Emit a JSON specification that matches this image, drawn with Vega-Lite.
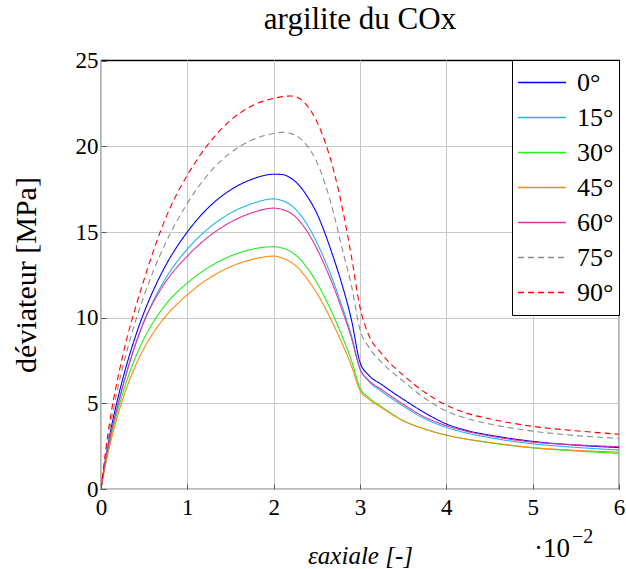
{
  "$schema": "https://vega.github.io/schema/vega-lite/v6.json",
  "autosize": "none",
  "width": 518,
  "height": 429,
  "padding": {"left": 101, "top": 60, "right": 7, "bottom": 80},
  "background": "white",
  "title": {"text": "argilite du COx", "font": "Liberation Serif, DejaVu Serif, serif", "fontSize": 31, "fontWeight": "normal", "color": "black", "offset": 14},
  "config": {
    "view": {"stroke": "black", "strokeWidth": 1.2},
    "axis": {"labelFont": "Liberation Serif, DejaVu Serif, serif", "labelFontSize": 23, "labelColor": "black", "labelFlush": false, "titleFont": "Liberation Serif, DejaVu Serif, serif", "titleFontWeight": "normal", "titleColor": "black", "gridColor": "#c8c8c8", "gridWidth": 1, "domain": false, "tickColor": "#555555", "tickSize": -5}
  },
  "layer": [
    {
      "data": {"values": [
        {"x":0,"0°":0,"15°":0,"30°":0,"45°":0,"60°":0,"75°":0,"90°":0},
        {"x":0.05,"0°":1.7,"15°":1.6,"30°":1.45,"45°":1.35,"60°":1.6,"75°":1.85,"90°":2.1},
        {"x":0.1,"0°":3.1,"15°":2.9,"30°":2.7,"45°":2.5,"60°":2.9,"75°":3.45,"90°":3.9},
        {"x":0.2,"0°":5.4,"15°":5.0,"30°":4.7,"45°":4.4,"60°":5.0,"75°":6.0,"90°":6.6},
        {"x":0.3,"0°":7.3,"15°":6.85,"30°":6.35,"45°":5.95,"60°":6.85,"75°":8.05,"90°":8.8},
        {"x":0.4,"0°":8.93,"15°":8.45,"30°":7.7,"45°":7.2,"60°":8.45,"75°":9.8,"90°":10.6},
        {"x":0.5,"0°":10.33,"15°":9.8,"30°":8.8,"45°":8.23,"60°":9.8,"75°":11.3,"90°":12.25},
        {"x":0.6,"0°":11.53,"15°":10.93,"30°":9.7,"45°":9.07,"60°":10.85,"75°":12.65,"90°":13.8},
        {"x":0.75,"0°":13.06,"15°":12.31,"30°":10.78,"45°":10.09,"60°":12.1,"75°":14.38,"90°":15.83},
        {"x":1,"0°":15.01,"15°":14.01,"30°":12.03,"45°":11.34,"60°":13.6,"75°":16.68,"90°":18.33},
        {"x":1.25,"0°":16.46,"15°":15.24,"30°":12.95,"45°":12.3,"60°":14.75,"75°":18.43,"90°":20.18},
        {"x":1.5,"0°":17.46,"15°":16.11,"30°":13.6,"45°":12.98,"60°":15.58,"75°":19.63,"90°":21.53},
        {"x":1.75,"0°":18.09,"15°":16.66,"30°":14.0,"45°":13.4,"60°":16.13,"75°":20.38,"90°":22.38},
        {"x":2,"0°":18.38,"15°":16.94,"30°":14.15,"45°":13.6,"60°":16.4,"75°":20.76,"90°":22.81},
        {"x":2.1,"0°":18.36,"15°":16.84,"30°":14.07,"45°":13.48,"60°":16.32,"75°":20.83,"90°":22.91},
        {"x":2.2,"0°":18.15,"15°":16.57,"30°":13.86,"45°":13.25,"60°":16.1,"75°":20.75,"90°":22.95},
        {"x":2.3,"0°":17.7,"15°":16.08,"30°":13.45,"45°":12.82,"60°":15.65,"75°":20.5,"90°":22.8},
        {"x":2.4,"0°":17.0,"15°":15.34,"30°":12.83,"45°":12.19,"60°":14.94,"75°":19.95,"90°":22.3},
        {"x":2.5,"0°":16.1,"15°":14.4,"30°":12.05,"45°":11.44,"60°":14.04,"75°":19.1,"90°":21.45},
        {"x":2.6,"0°":14.85,"15°":13.27,"30°":11.1,"45°":10.54,"60°":12.95,"75°":17.75,"90°":20.2},
        {"x":2.7,"0°":13.4,"15°":11.99,"30°":10.03,"45°":9.52,"60°":11.73,"75°":16.0,"90°":18.5},
        {"x":2.8,"0°":11.8,"15°":10.55,"30°":8.83,"45°":8.42,"60°":10.35,"75°":13.9,"90°":16.3},
        {"x":2.9,"0°":9.9,"15°":8.97,"30°":7.51,"45°":7.2,"60°":8.84,"75°":11.9,"90°":13.6},
        {"x":3,"0°":7.4,"15°":7.05,"30°":5.9,"45°":5.75,"60°":7.0,"75°":9.3,"90°":10.6},
        {"x":3.1,"0°":6.65,"15°":6.3,"30°":5.35,"45°":5.25,"60°":6.35,"75°":8.3,"90°":9.0},
        {"x":3.25,"0°":6.1,"15°":5.7,"30°":4.8,"45°":4.75,"60°":5.8,"75°":7.4,"90°":7.9},
        {"x":3.5,"0°":5.24,"15°":4.85,"30°":4.0,"45°":3.98,"60°":4.95,"75°":6.3,"90°":6.65},
        {"x":3.75,"0°":4.45,"15°":4.1,"30°":3.5,"45°":3.5,"60°":4.2,"75°":5.3,"90°":5.65},
        {"x":4,"0°":3.8,"15°":3.6,"30°":3.15,"45°":3.15,"60°":3.7,"75°":4.55,"90°":4.9},
        {"x":4.25,"0°":3.4,"15°":3.25,"30°":2.9,"45°":2.9,"60°":3.35,"75°":4.1,"90°":4.4},
        {"x":4.5,"0°":3.15,"15°":3.0,"30°":2.7,"45°":2.72,"60°":3.1,"75°":3.8,"90°":4.1},
        {"x":5,"0°":2.78,"15°":2.64,"30°":2.4,"45°":2.42,"60°":2.74,"75°":3.38,"90°":3.66},
        {"x":5.5,"0°":2.56,"15°":2.43,"30°":2.22,"45°":2.26,"60°":2.58,"75°":3.12,"90°":3.4},
        {"x":6,"0°":2.42,"15°":2.28,"30°":2.08,"45°":2.15,"60°":2.47,"75°":2.96,"90°":3.2}
      ]},
      "transform": [{"fold": ["0°","15°","30°","45°","60°","75°","90°"], "as": ["angle","y"]}],
      "mark": {"type": "line", "interpolate": "monotone", "strokeWidth": 1.1, "clip": true},
      "encoding": {
        "x": {"field": "x", "type": "quantitative", "scale": {"domain": [0, 6], "nice": false}, "axis": {"values": [0,1,2,3,4,5,6], "format": "d", "labelPadding": 12, "title": "εaxiale [-]", "titleFontSize": 25, "titleFontStyle": "italic", "titlePadding": 24}},
        "y": {"field": "y", "type": "quantitative", "scale": {"domain": [0, 25.05], "nice": false}, "axis": {"values": [0,5,10,15,20,25], "format": "d", "labelPadding": 8, "title": "déviateur [MPa]", "titleFontSize": 30, "titlePadding": 34}},
        "color": {"field": "angle", "type": "nominal", "scale": {"domain": ["0°","15°","30°","45°","60°","75°","90°"], "range": ["#0000ff","#22b4ee","#22ee22","#ff8a14","#e2329c","#8c8c8c","#ff0000"]}, "legend": {"title": null, "orient": "top-right", "offset": 0, "strokeColor": "black", "fillColor": "white", "padding": 5, "labelFont": "Liberation Serif, DejaVu Serif, serif", "labelFontSize": 26, "labelColor": "black", "symbolType": "stroke", "symbolSize": 2304, "symbolStrokeWidth": 1.3, "clipHeight": 35, "rowPadding": 0, "labelOffset": 10}},
        "strokeDash": {"field": "angle", "type": "nominal", "scale": {"domain": ["0°","15°","30°","45°","60°","75°","90°"], "range": [[1,0],[1,0],[1,0],[1,0],[1,0],[6,4],[6,4]]}, "legend": null}
      }
    },
    {
      "data": {"values": [{"label": "·10"}]},
      "mark": {"type": "text", "font": "Liberation Serif, DejaVu Serif, serif", "fontSize": 27, "align": "right", "baseline": "middle", "dy": 60},
      "encoding": {"x": {"datum": 5.432, "type": "quantitative"}, "y": {"datum": 0, "type": "quantitative"}, "text": {"field": "label"}}
    },
    {
      "data": {"values": [{"label": "−2"}]},
      "mark": {"type": "text", "font": "Liberation Serif, DejaVu Serif, serif", "fontSize": 20, "align": "left", "baseline": "middle", "dy": 48},
      "encoding": {"x": {"datum": 5.455, "type": "quantitative"}, "y": {"datum": 0, "type": "quantitative"}, "text": {"field": "label"}}
    }
  ]
}
